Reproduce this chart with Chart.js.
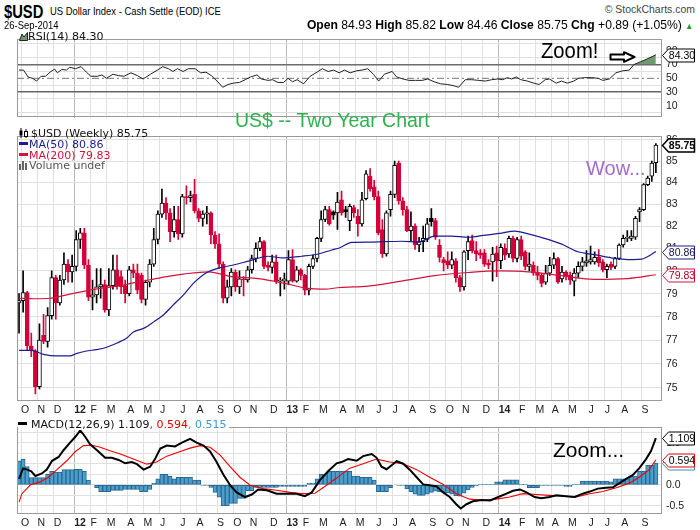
<!DOCTYPE html>
<html>
<head>
<meta charset="utf-8">
<script src="https://cdn.jsdelivr.net/npm/chart.js@4.4.1/dist/chart.umd.min.js"></script>
<style>
  html, body { margin: 0; padding: 0; background: #fff; }
  #page { position: relative; width: 700px; height: 530px; overflow: hidden; background: #fff; }
  .pane { position: absolute; left: 0; width: 700px; }
  .t { position: absolute; white-space: nowrap; line-height: 1; }
  .nar { font-family: "Liberation Sans", Arial, sans-serif; transform: scaleX(0.82); transform-origin: left top; }
  .lg { font-family: "DejaVu Sans", Verdana, sans-serif; font-size: 11px; color: #111; }
</style>
</head>
<body>
<div id="page">
  <div class="pane" style="top:29px;height:99px"><canvas id="rsiChart"></canvas></div>
  <div class="pane" style="top:126px;height:291px"><canvas id="priceChart"></canvas></div>
  <div class="pane" style="top:417px;height:113px"><canvas id="macdChart"></canvas></div>

  <!-- header -->
  <div class="t nar" style="left:4px;top:3px;font-size:18px;font-weight:bold;">$USD</div>
  <div class="t nar" style="left:50px;top:6px;font-size:11.5px;">US Dollar Index - Cash Settle (EOD) ICE</div>
  <div class="t nar" style="left:4px;top:20px;font-size:11.5px;">26-Sep-2014</div>
  <div class="t" style="right:5px;top:4px;font-family:'Liberation Sans';font-size:11px;color:#444;transform:scaleX(0.95);transform-origin:right top;">&copy; StockCharts.com</div>
  <div class="t" style="right:7px;top:18px;font-family:'Liberation Sans';font-size:13.5px;transform:scaleX(0.9);transform-origin:right top;"><b>Open</b> 84.93 <b>High</b> 85.82 <b>Low</b> 84.46 <b>Close</b> 85.75 <b>Chg</b> +0.89 (+1.05%) <span style="color:#2a9a2a;font-size:9px">&#9650;</span></div>

  <!-- RSI legend -->
  <div class="t lg" style="left:19px;top:31px;">
    <svg width="9" height="9" style="vertical-align:-1px"><path d="M0.5,8.5 L3,2 L5,5 L8.5,0.5 L8.5,8.5 Z" fill="#6f9b6f" stroke="#222" stroke-width="1"/></svg>RSI(14) 84.30
  </div>

  <!-- price legend -->
  <div class="t lg" style="left:19px;top:128px;">
    <svg width="12" height="10" style="vertical-align:-1px"><line x1="2" y1="0" x2="2" y2="10" stroke="#000"/><rect x="0.5" y="2.5" width="3" height="5" fill="#000"/><line x1="7" y1="1" x2="7" y2="10" stroke="#000"/><rect x="5.5" y="3.5" width="3" height="5" fill="#fff" stroke="#000"/></svg>$USD (Weekly) 85.75
  </div>
  <div class="t lg" style="left:19px;top:139px;color:#1c1c8f;"><span style="display:inline-block;width:9px;height:3px;background:#1c1c8f;vertical-align:3px;margin-right:1px"></span>MA(50) 80.86</div>
  <div class="t lg" style="left:19px;top:150px;color:#d4143c;"><span style="display:inline-block;width:9px;height:3px;background:#d4143c;vertical-align:3px;margin-right:1px"></span>MA(200) 79.83</div>
  <div class="t lg" style="left:19px;top:160px;color:#555;">
    <svg width="10" height="9" style="vertical-align:-1px"><rect x="0" y="3" width="2" height="6" fill="#666"/><rect x="3" y="0" width="2" height="9" fill="#666"/><rect x="6" y="2" width="2" height="7" fill="#666"/></svg>Volume undef
  </div>

  <!-- MACD legend -->
  <div class="t lg" style="left:18px;top:419px;background:#fff;padding-right:2px;"><span style="display:inline-block;width:9px;height:3px;background:#000;vertical-align:3px;margin-right:4px"></span>MACD(12,26,9) 1.109<span style="color:#e00000">, 0.594</span><span style="color:#3a9ad9">, 0.515</span></div>

  <!-- annotations -->
  <div class="t" style="left:541px;top:40px;font-family:'Liberation Sans';font-size:22px;transform:scaleX(0.92);transform-origin:left top;">Zoom!</div>
  <svg class="t" style="left:609px;top:51px" width="28" height="12"><path d="M1.5,3.5 H15 V1.2 L25.5,6 L15,10.8 V8.5 H1.5 Z" fill="#fff" stroke="#000" stroke-width="2" stroke-linejoin="round"/></svg>
  <div class="t" style="left:235px;top:111px;font-family:'Liberation Sans';font-size:19.5px;color:#2eb24e;">US$ -- Two Year Chart</div>
  <div class="t" style="left:586px;top:158px;font-family:'Liberation Sans';font-size:20px;color:#a56bcb;">Wow...</div>
  <div class="t" style="left:553px;top:439px;font-family:'Liberation Sans';font-size:21px;color:#000;">Zoom...</div>
</div>

<script>
// weekly bars, first bar = week ending 30-Sep-2011
const firstWeek = Date.UTC(2011, 8, 30);
const monthLetters = ['J', 'F', 'M', 'A', 'M', 'J', 'J', 'A', 'S', 'O', 'N', 'D'];

const opens = [
  78.60, 78.70, 79.05, 76.75, 76.55, 75.05, 77.20, 76.95, 78.05, 79.70,
  78.60, 79.60, 80.30, 79.95, 80.20, 81.40, 81.70, 80.25, 78.85, 78.95,
  79.30, 79.40, 78.30, 79.35, 80.05, 79.75, 79.35, 79.00, 80.05, 79.90,
  79.80, 78.75, 79.50, 80.30, 81.40, 82.55, 83.05, 82.60, 81.75, 82.30,
  81.65, 83.35, 83.30, 83.45, 82.70, 82.35, 82.55, 82.60, 81.60, 81.20,
  80.30, 78.80, 79.30, 79.95, 79.30, 79.65, 79.60, 80.05, 80.55, 81.00,
  81.30, 80.25, 80.15, 80.40, 79.55, 79.55, 79.55, 80.50, 79.55, 80.05,
  79.80, 79.15, 80.20, 80.55, 81.45, 82.30, 82.75, 82.65, 82.60, 83.20,
  82.75, 82.25, 82.85, 82.45, 82.10, 83.25, 84.30, 83.80, 83.35, 81.85,
  80.75, 82.75, 83.45, 84.90, 83.15, 82.75, 81.80, 82.00, 81.15, 81.30,
  81.40, 82.35, 82.25, 81.15, 80.50, 80.45, 80.25, 80.45, 79.70, 79.30,
  80.90, 81.35, 80.90, 80.80, 80.80, 80.35, 80.40, 80.80, 80.45, 81.00,
  80.75, 81.45, 80.55, 81.40, 80.85, 80.20, 80.25, 79.95, 79.80, 79.50,
  79.90, 80.25, 80.55, 79.65, 79.95, 79.80, 79.55, 79.90, 80.20, 80.35,
  80.40, 80.40, 80.60, 80.40, 80.05, 80.30, 80.20, 80.55, 81.15, 81.45,
  81.45, 81.50, 82.65, 82.75, 83.90, 84.30, 84.93
];
const highs = [
  79.00, 80.00, 79.10, 77.30, 76.60, 77.70, 78.10, 78.40, 80.00, 79.80,
  79.80, 80.80, 80.50, 80.70, 81.80, 81.90, 81.90, 80.50, 79.60, 80.10,
  80.10, 79.60, 80.10, 80.70, 80.70, 80.00, 79.60, 80.20, 80.30, 80.30,
  79.90, 79.60, 80.50, 81.90, 82.70, 83.70, 83.30, 82.80, 82.90, 82.90,
  83.45, 83.85, 83.60, 84.15, 82.80, 82.70, 82.90, 82.65, 81.75, 81.65,
  80.40, 79.60, 80.10, 80.05, 80.00, 79.75, 80.20, 80.70, 81.25, 81.50,
  81.35, 80.40, 80.70, 80.70, 79.70, 79.90, 80.90, 80.95, 80.20, 80.10,
  79.85, 80.30, 80.70, 81.50, 82.70, 82.90, 82.90, 82.70, 83.55, 83.60,
  82.90, 83.00, 82.95, 82.75, 83.55, 84.55, 84.65, 84.10, 83.60, 82.30,
  82.70, 83.60, 85.00, 85.00, 83.30, 82.90, 82.65, 82.10, 81.50, 82.00,
  82.35, 82.80, 82.35, 81.40, 80.60, 80.85, 80.85, 80.55, 79.80, 80.90,
  81.55, 81.60, 81.30, 80.95, 80.95, 80.50, 81.05, 81.10, 81.20, 81.20,
  81.55, 81.55, 81.50, 81.55, 80.90, 80.80, 80.40, 80.20, 79.90, 80.25,
  80.60, 80.80, 80.60, 80.20, 80.00, 79.95, 80.10, 80.40, 80.60, 80.90,
  81.10, 80.85, 80.95, 80.50, 80.30, 80.40, 80.60, 81.20, 81.60, 81.80,
  81.80, 82.45, 82.85, 83.95, 84.30, 85.00, 85.82
];
const lows = [
  77.30, 78.20, 76.60, 76.30, 74.75, 74.95, 76.85, 76.70, 77.90, 77.90,
  78.50, 79.40, 79.50, 79.50, 80.00, 81.00, 80.10, 78.70, 78.30, 78.60,
  78.80, 78.20, 78.05, 79.20, 79.20, 79.00, 78.60, 78.90, 79.70, 79.00,
  78.60, 78.50, 79.30, 80.20, 81.20, 82.40, 82.30, 81.30, 81.50, 81.40,
  81.50, 83.00, 83.10, 82.60, 82.20, 82.00, 82.10, 81.20, 81.00, 80.10,
  78.60, 78.60, 78.90, 79.10, 79.00, 78.90, 79.50, 79.90, 80.40, 80.90,
  80.10, 80.00, 79.90, 79.45, 78.90, 79.20, 79.40, 79.50, 79.50, 79.60,
  78.95, 78.95, 80.10, 80.40, 81.30, 82.20, 82.05, 82.30, 81.85, 82.50,
  82.40, 81.80, 82.40, 81.55, 82.00, 83.20, 83.60, 83.20, 81.60, 80.60,
  80.65, 82.45, 83.30, 83.00, 82.50, 81.75, 81.35, 80.95, 80.85, 80.85,
  81.30, 82.00, 81.40, 80.40, 80.00, 80.10, 80.10, 79.50, 79.10, 79.15,
  80.50, 80.80, 80.45, 80.55, 80.20, 80.10, 79.55, 79.75, 80.10, 80.50,
  80.60, 80.40, 80.40, 80.50, 80.05, 80.00, 79.80, 79.60, 79.30, 79.40,
  79.80, 80.10, 79.45, 79.50, 79.60, 79.40, 78.90, 79.70, 80.00, 80.20,
  80.30, 80.30, 80.20, 79.95, 79.70, 80.05, 80.10, 80.50, 81.05, 81.30,
  81.35, 81.40, 82.20, 82.70, 83.85, 84.05, 84.46
];
const closes = [
  78.70, 79.05, 76.75, 76.55, 75.05, 77.00, 76.95, 78.05, 79.70, 78.60,
  79.60, 80.30, 79.95, 80.20, 81.40, 81.70, 80.25, 78.85, 78.95, 79.30,
  79.40, 78.30, 79.35, 80.05, 79.35, 79.30, 79.00, 80.05, 79.90, 79.15,
  78.75, 79.50, 80.30, 81.40, 82.55, 83.05, 82.60, 81.75, 82.30, 81.65,
  83.35, 83.30, 83.40, 82.70, 82.35, 82.55, 82.60, 81.60, 81.20, 80.30,
  78.80, 79.30, 79.95, 79.30, 79.65, 79.60, 80.05, 80.55, 81.00, 81.30,
  80.20, 80.15, 80.40, 79.55, 79.60, 79.65, 80.50, 79.55, 80.05, 79.80,
  79.15, 80.20, 80.55, 81.45, 82.30, 82.75, 82.10, 82.50, 83.10, 82.60,
  82.65, 82.90, 82.60, 82.10, 83.20, 84.40, 83.70, 83.35, 81.70, 80.75,
  82.60, 83.45, 84.80, 83.15, 82.75, 81.80, 82.00, 81.15, 81.30, 81.45,
  82.10, 82.20, 81.50, 80.60, 80.35, 80.25, 80.50, 79.70, 79.30, 80.85,
  81.30, 80.90, 80.75, 80.70, 80.30, 80.25, 80.75, 80.45, 81.05, 80.70,
  81.45, 80.55, 81.40, 80.65, 80.20, 80.30, 79.90, 79.80, 79.45, 79.90,
  80.25, 80.55, 79.50, 79.95, 79.75, 79.60, 79.90, 80.20, 80.40, 80.45,
  80.50, 80.60, 80.35, 80.05, 80.20, 80.15, 80.55, 81.15, 81.45, 81.50,
  81.55, 82.35, 82.75, 83.90, 84.20, 84.90, 85.75
];

// overlays: [week, value]
const ma50Pts = [
  [0, 76.57], [3, 76.57], [6, 76.4], [9, 76.33], [12.5, 76.33], [14, 76.43], [16.5, 76.54],
  [19, 76.6], [21.5, 76.7], [24, 76.88], [26.5, 77.1], [28, 77.35], [30.5, 77.5], [33, 77.78],
  [35.5, 78.1], [38, 78.55], [40.3, 78.95], [42.7, 79.45], [46, 79.93], [48.8, 80.12],
  [52.5, 80.26], [56.2, 80.43], [61, 80.65], [64.3, 80.58], [69.2, 80.65], [73.3, 80.75],
  [76.6, 80.93], [78.6, 81.03], [81.5, 81.27], [85.5, 81.28], [89.6, 81.3], [93.7, 81.32],
  [97.7, 81.28], [101.8, 81.55], [105.9, 81.55], [110, 81.5], [113.3, 81.57], [117.7, 81.67],
  [121.4, 81.78], [124.7, 81.65], [128.7, 81.45], [132.8, 81.2], [136.9, 80.85], [141, 80.72],
  [145.1, 80.58], [149.1, 80.5], [152.4, 80.52], [154.8, 80.72], [156, 80.86]
];
const ma200Pts = [
  [0, 78.8], [3.6, 78.78], [7.7, 78.8], [11.7, 78.95], [15.8, 79.1], [19.9, 79.23], [24, 79.33],
  [28, 79.47], [32.1, 79.61], [36.2, 79.75], [40.3, 79.86], [46.4, 79.96], [52.1, 79.75],
  [58.6, 79.66], [65.1, 79.45], [70.8, 79.23], [74.9, 79.2], [78.6, 79.27], [85.5, 79.33],
  [93.7, 79.55], [101.8, 79.79], [110, 79.93], [117.7, 80.0], [124.7, 79.96], [132.8, 79.79],
  [141, 79.63], [149.1, 79.66], [156, 79.83]
];
const rsiPts = [
  [0, 62], [1.1, 62], [2.2, 52], [3.3, 50], [4.3, 46], [5.4, 53], [6.5, 53], [7.6, 59], [8.7, 63.5],
  [9.4, 58], [10.5, 63], [11.6, 62], [12.4, 66], [13.8, 64], [15.2, 67], [16.5, 59], [17.6, 53],
  [19.2, 53], [20.3, 55], [21.4, 50], [23, 56], [24.3, 54], [25.7, 53], [27.4, 58], [29, 54],
  [30.4, 49], [32.2, 56], [33.9, 62], [35.2, 67], [36.6, 64], [37.7, 60], [38.8, 64], [40.2, 60],
  [41.5, 64], [43.1, 64], [44.5, 58], [45.8, 59], [47.1, 54], [48.5, 46], [49.9, 37], [51.2, 41],
  [52.5, 43], [54, 44], [55.4, 48], [56.7, 52], [58.3, 55], [59.4, 49], [61, 47], [62.1, 48],
  [63.4, 44], [64.8, 44], [65.9, 50], [67, 45], [68.1, 48], [69.7, 42], [71.3, 53], [73, 59],
  [74.3, 64], [75.7, 60], [77.1, 62], [78.4, 58], [79.7, 62], [81.1, 58], [82.7, 61], [84, 62],
  [85.4, 64], [86.8, 56], [88.1, 46], [89.5, 56], [91.4, 60], [92.5, 52], [94.1, 49], [95.5, 47],
  [97.1, 47], [98.8, 47], [100.1, 49], [101.7, 45], [103.3, 42], [105, 41], [106.6, 39], [107.7, 37],
  [109.3, 48], [110.9, 48], [112.6, 47], [114.2, 46], [115.8, 48], [117.2, 49], [118.5, 48],
  [119.6, 51], [120.7, 49], [121.8, 52], [122.9, 48], [124.5, 46], [126.1, 43], [127.4, 41],
  [128.9, 48], [129.9, 49], [131.6, 43], [132.9, 46], [134.3, 43], [135.9, 46], [137, 50],
  [138.6, 51], [140.3, 51], [141.9, 50], [143, 47], [144.6, 49], [146.2, 58], [147.9, 61],
  [149.5, 62], [150.6, 70], [152.2, 74], [153.8, 78], [156, 84.3]
];
const macdPts = [
  [0, 0.14], [1, 0.39], [2, 0.36], [3, 0.32], [4, 0.21], [5.6, 0.27], [6.8, 0.36], [8.1, 0.57],
  [9.7, 0.66], [10.9, 0.82], [12.5, 1.0], [13.8, 1.14], [15, 1.29], [16.2, 1.14], [17.4, 0.96],
  [19.1, 0.82], [21.1, 0.64], [22.7, 0.64], [24.4, 0.59], [26, 0.51], [27.6, 0.54], [28.9, 0.49],
  [30.5, 0.36], [32.1, 0.43], [33.3, 0.61], [34.6, 0.86], [36.2, 0.93], [38.2, 0.91], [39.9, 1.0],
  [41.9, 1.09], [43.5, 1.0], [45.2, 0.93], [46.8, 0.79], [48.4, 0.54], [50, 0.25], [51.7, -0.01],
  [53.3, -0.18], [55.4, -0.29], [57, -0.23], [58.6, -0.11], [60.7, -0.13], [63.1, -0.21],
  [65.6, -0.21], [68, -0.21], [70, -0.27], [71.7, -0.18], [73.7, 0.11], [75.7, 0.32], [77.8, 0.51],
  [79, 0.54], [80.6, 0.61], [82.7, 0.57], [84.3, 0.68], [86.4, 0.73], [87.6, 0.64], [88.8, 0.43],
  [90, 0.37], [91.2, 0.46], [92.5, 0.56], [94.1, 0.5], [95.7, 0.36], [97.4, 0.18], [99, 0.01],
  [100.6, -0.01], [102.3, -0.04], [103.9, -0.18], [105.5, -0.29], [107.1, -0.46], [108.2, -0.56],
  [109.6, -0.46], [111.2, -0.39], [113.3, -0.36], [115.4, -0.37], [117.4, -0.29], [119.4, -0.21],
  [121, -0.14], [122.7, -0.11], [124.3, -0.18], [126.3, -0.29], [127.9, -0.32], [130, -0.29],
  [131.6, -0.25], [134, -0.27], [136.1, -0.29], [138.1, -0.21], [139.8, -0.16], [141.8, -0.09],
  [143.8, -0.07], [145.5, -0.06], [147.1, 0.04], [148.7, 0.14], [150.3, 0.23], [151.9, 0.39],
  [153.6, 0.61], [154.8, 0.8], [156, 1.109]
];
const signalPts = [
  [0, -0.41], [0.7, -0.21], [2.8, 0.0], [5.2, 0.07], [7.2, 0.18], [9.3, 0.36], [11.7, 0.57],
  [13.8, 0.79], [15.8, 0.93], [17.9, 0.94], [19.9, 0.89], [21.9, 0.82], [24.8, 0.73], [28, 0.61],
  [31.3, 0.49], [33.7, 0.54], [36.2, 0.68], [39.5, 0.79], [41.9, 0.87], [44.3, 0.93], [46.8, 0.89],
  [49.2, 0.71], [51.7, 0.43], [54.1, 0.18], [56.6, -0.01], [59.8, -0.09], [63.1, -0.13],
  [66.4, -0.18], [69.6, -0.21], [72.5, -0.2], [74.9, -0.04], [77.8, 0.16], [80.9, 0.39],
  [84.3, 0.5], [87.6, 0.61], [90.8, 0.54], [94.1, 0.5], [97.4, 0.36], [100.6, 0.18], [103.9, 0.01],
  [107.1, -0.21], [110.4, -0.34], [113.6, -0.37], [116.9, -0.34], [120.2, -0.29], [123.4, -0.21],
  [126.7, -0.23], [130, -0.25], [133.2, -0.27], [136.5, -0.29], [139.8, -0.21], [143, -0.16],
  [146.3, -0.07], [149.5, 0.04], [151.9, 0.18], [154.4, 0.36], [156, 0.594]
];
const histVals = [
  0.57, 0.61, 0.43, 0.17, 0.17, 0.17, 0.17, 0.25, 0.32, 0.30,
  0.30, 0.36, 0.36, 0.36, 0.37, 0.37, 0.32, 0.11, 0.00, -0.07,
  -0.16, -0.16, -0.16, -0.13, -0.13, -0.13, -0.11, -0.11, -0.11, -0.11,
  -0.16, -0.16, -0.11, 0.04, 0.14, 0.25, 0.25, 0.20, 0.14, 0.18,
  0.18, 0.18, 0.18, 0.11, 0.11, -0.01, -0.01, -0.06, -0.18, -0.29,
  -0.50, -0.50, -0.44, -0.44, -0.32, -0.32, -0.14, -0.14, -0.06, -0.06,
  -0.06, -0.06, -0.06, -0.06, -0.04, -0.04, -0.04, -0.04, -0.04, -0.04,
  -0.04, 0.04, 0.04, 0.14, 0.25, 0.25, 0.32, 0.32, 0.32, 0.32,
  0.32, 0.32, 0.21, 0.21, 0.18, 0.18, 0.18, 0.11, -0.16, -0.16,
  -0.16, -0.07, 0.00, -0.01, -0.01, -0.10, -0.16, -0.22, -0.25, -0.25,
  -0.22, -0.18, -0.15, -0.16, -0.18, -0.19, -0.22, -0.26, -0.27, -0.20,
  -0.12, -0.06, -0.02, 0.01, 0.01, 0.01, 0.01, 0.07, 0.07, 0.12,
  0.12, 0.12, 0.12, 0.01, 0.01, -0.07, -0.07, -0.07, -0.01, -0.01,
  -0.01, -0.01, -0.01, -0.01, -0.04, -0.04, 0.01, 0.01, 0.09, 0.09,
  0.09, 0.09, 0.09, 0.09, 0.09, 0.07, 0.14, 0.14, 0.14, 0.14,
  0.21, 0.21, 0.32, 0.32, 0.46, 0.46, 0.515
];

const priceTicks = [75, 76, 77, 78, 79, 80, 81, 82, 83, 84, 85, 86];
const rsiTicks = [0, 10, 20, 30, 40, 50, 60, 70, 80, 90, 100];
const macdTicks = [-0.5, -0.25, 0, 0.25, 0.5, 0.75, 1.0, 1.25];

const RED = '#d4003a';
const GRID = '#e0e0e0';
const FONT = 'Liberation Sans';
const weekCount = closes.length;

// month boundaries on the time axis
const monthTicks = [];
for (let i = 1; i < weekCount; i++) {
  const a = new Date(firstWeek + (i - 1) * 7 * 864e5);
  const b = new Date(firstWeek + i * 7 * 864e5);
  if (a.getUTCMonth() !== b.getUTCMonth()) {
    const m = b.getUTCMonth();
    monthTicks.push({ value: i - 0.5, label: m === 0 ? String(b.getUTCFullYear()).slice(2) : monthLetters[m], year: m === 0 });
  }
}
const tickInfo = new Map(monthTicks.map(t => [t.value, t]));
const isYear = tick => !!(tick && tickInfo.get(tick.value) && tickInfo.get(tick.value).year);

const pts = arr => arr.map(p => ({ x: p[0], y: p[1] }));
const last = arr => arr[arr.length - 1][1];

const candleColor = closes.map((c, i) => c < (i ? closes[i - 1] : opens[i]) ? RED : '#000');
const candleFill = closes.map((c, i) => c < opens[i] ? candleColor[i] : '#fff');

function xScale(showLabels) {
  return {
    type: 'linear', min: -0.5, max: weekCount + 0.5, offset: false,
    afterBuildTicks: s => { s.ticks = monthTicks.map(t => ({ value: t.value })); },
    afterFit: s => { s.height = showLabels ? 15 : 0; },
    grid: { offset: false, drawTicks: false, color: c => isYear(c.tick) ? '#b8b8b8' : GRID },
    border: { display: false },
    ticks: {
      display: showLabels, autoSkip: false, maxRotation: 0, minRotation: 0, align: 'start', padding: 3, color: '#222',
      font: c => ({ family: FONT, size: 10.5, weight: isYear(c.tick) ? 'bold' : 'normal' }),
      callback: v => (tickInfo.get(v) || {}).label || ''
    }
  };
}

function yScale(extra) {
  return Object.assign({
    position: 'right',
    afterFit: s => { s.width = 38; },
    border: { display: false },
    ticks: { autoSkip: false, padding: 4, color: '#222', font: { family: FONT, size: 10.5 } }
  }, extra);
}

const frame = {
  id: 'frame',
  afterDraw(chart) {
    const { ctx, chartArea: a } = chart;
    ctx.save();
    ctx.strokeStyle = '#9a9a9a';
    ctx.lineWidth = 1;
    ctx.strokeRect(Math.round(a.left) + 0.5, Math.round(a.top) + 0.5, Math.round(a.width) - 1, Math.round(a.height) - 1);
    ctx.restore();
  }
};

// value boxes on the right axis
const tags = {
  id: 'tags',
  afterDraw(chart, args, opts) {
    const { ctx, chartArea: a } = chart;
    const y = chart.scales.y;
    (opts.items || []).forEach(t => {
      const py = Math.round(y.getPixelForValue(t.value)) + 0.5;
      const x0 = a.right + 0.5, x1 = x0 + 6, x2 = x0 + 32;
      ctx.save();
      ctx.beginPath();
      ctx.moveTo(x0, py);
      ctx.lineTo(x1, py - 6.5);
      ctx.lineTo(x2, py - 6.5);
      ctx.lineTo(x2, py + 6.5);
      ctx.lineTo(x1, py + 6.5);
      ctx.closePath();
      ctx.fillStyle = '#fff';
      ctx.fill();
      ctx.strokeStyle = t.color;
      ctx.lineWidth = t.bold ? 1.5 : 1;
      ctx.stroke();
      ctx.fillStyle = t.text || '#000';
      ctx.font = (t.bold ? 'bold ' : '') + '10.5px "' + FONT + '"';
      ctx.textBaseline = 'middle';
      ctx.textAlign = 'center';
      ctx.fillText(t.label, (x1 + x2) / 2 + 0.5, py + 0.5);
      ctx.restore();
    });
  }
};

const base = {
  responsive: true, maintainAspectRatio: false, animation: false,
  layout: { padding: { left: 17, right: 0, top: 1, bottom: 1 } },
  elements: { point: { radius: 0 } }
};

// RSI panel
new Chart(document.getElementById('rsiChart'), {
  type: 'line',
  data: {
    datasets: [
      {
        data: pts(rsiPts), borderColor: '#222', borderWidth: 1, order: 0,
        fill: { target: { value: 70 }, above: 'rgb(111,155,111)', below: 'rgba(0,0,0,0)' }
      },
      {
        data: [{ x: -0.5, y: 50 }, { x: weekCount + 0.5, y: 50 }], borderColor: '#777', borderWidth: 1,
        borderDash: [7, 3, 2, 3], order: 1
      }
    ]
  },
  options: Object.assign({}, base, {
    plugins: { legend: { display: false }, tooltip: { enabled: false }, tags: { items: [{ value: last(rsiPts), label: last(rsiPts).toFixed(2), color: '#000' }] } },
    scales: {
      x: xScale(false),
      y: yScale({
        type: 'linear', min: -7.3, max: 106.8,
        afterBuildTicks: s => { s.ticks = rsiTicks.map(v => ({ value: v })); },
        grid: {
          drawTicks: false,
          color: c => (c.tick && (c.tick.value === 30 || c.tick.value === 70)) ? '#666' : (c.tick && c.tick.value % 20 === 0 ? GRID : 'rgba(0,0,0,0)'),
          lineWidth: c => (c.tick && (c.tick.value === 30 || c.tick.value === 70)) ? 1.5 : 1
        },
        ticks: { autoSkip: false, padding: 4, color: '#222', font: { family: FONT, size: 10.5 }, callback: v => v % 20 === 10 ? String(v) : '' }
      })
    }
  }),
  plugins: [frame, tags]
});

// price panel
new Chart(document.getElementById('priceChart'), {
  type: 'line',
  data: {
    datasets: [
      { data: pts(ma50Pts), borderColor: '#1c1c8f', borderWidth: 1.2, cubicInterpolationMode: 'monotone', order: 0 },
      { data: pts(ma200Pts), borderColor: '#d4143c', borderWidth: 1.2, cubicInterpolationMode: 'monotone', order: 0 },
      {
        type: 'bar', data: closes.map((c, i) => ({ x: i, y: [opens[i], c] })),
        backgroundColor: candleFill, borderColor: candleColor, borderWidth: 1, borderSkipped: false,
        barThickness: 4, minBarLength: 1, grouped: false, order: 1
      },
      {
        type: 'bar', data: highs.map((h, i) => ({ x: i, y: [lows[i], h] })),
        backgroundColor: candleColor, borderWidth: 0, barThickness: 1, grouped: false, order: 2
      }
    ]
  },
  options: Object.assign({}, base, {
    plugins: {
      legend: { display: false }, tooltip: { enabled: false },
      tags: { items: [
        { value: last(ma200Pts), label: last(ma200Pts).toFixed(2), color: '#d4143c', text: '#b0002a' },
        { value: last(ma50Pts), label: last(ma50Pts).toFixed(2), color: '#1c1c8f', text: '#101050' },
        { value: closes[weekCount - 1], label: closes[weekCount - 1].toFixed(2), color: '#000', bold: true }
      ] }
    },
    scales: {
      x: xScale(true),
      y: yScale({
        type: 'logarithmic', min: 74.456, max: 86.17,
        afterBuildTicks: s => { s.ticks = priceTicks.map(v => ({ value: v })); },
        grid: { drawTicks: false, color: GRID },
        ticks: { autoSkip: false, padding: 4, color: '#222', font: { family: FONT, size: 10.5 }, callback: v => String(v) }
      })
    }
  }),
  plugins: [frame, tags]
});

// MACD panel
new Chart(document.getElementById('macdChart'), {
  type: 'line',
  data: {
    datasets: [
      { data: pts(macdPts), borderColor: '#000', borderWidth: 2, order: 0 },
      { data: pts(signalPts), borderColor: '#f00000', borderWidth: 1.1, order: 0 },
      {
        type: 'bar', data: histVals.map((v, i) => ({ x: i, y: v })),
        backgroundColor: '#4b9fcd', borderColor: '#2a668f', borderWidth: 1, borderSkipped: false,
        barThickness: 4.08, grouped: false, order: 1
      }
    ]
  },
  options: Object.assign({}, base, {
    plugins: {
      legend: { display: false }, tooltip: { enabled: false },
      tags: { items: [
        { value: histVals[weekCount - 1], label: histVals[weekCount - 1].toFixed(3), color: '#3a8fc4' },
        { value: last(signalPts), label: last(signalPts).toFixed(3), color: '#e00000' },
        { value: last(macdPts), label: last(macdPts).toFixed(3), color: '#000' }
      ] }
    },
    scales: {
      x: xScale(true),
      y: yScale({
        type: 'linear', min: -0.692, max: 1.364,
        afterBuildTicks: s => { s.ticks = macdTicks.map(v => ({ value: v })); },
        grid: { drawTicks: false, color: GRID },
        ticks: { autoSkip: false, padding: 4, color: '#222', font: { family: FONT, size: 10.5 }, callback: v => (Math.abs(v * 2 - Math.round(v * 2)) < 1e-9) ? v.toFixed(1) : '' }
      })
    }
  }),
  plugins: [frame, tags]
});
</script>
</body>
</html>
